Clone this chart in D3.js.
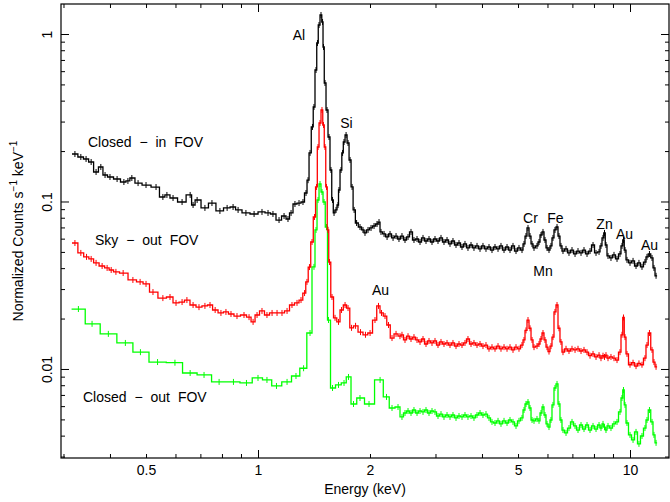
<!DOCTYPE html>
<html><head><meta charset="utf-8">
<script src="https://cdn.jsdelivr.net/npm/d3@7"></script>
<style>
body{margin:0;background:#fff;}
svg{display:block;}
text{font-family:"Liberation Sans",Arial,Helvetica,sans-serif;fill:#000;}
</style>
</head><body>
<svg id="chart" width="670" height="502"></svg>
<script>
// ---------- DATA (energy in keV, normalized counts s^-1 keV^-1) ----------
const blackLowEnergy = [0.322,0.334,0.345,0.356,0.367,0.378,0.388,0.400,0.418,0.436,
 0.447,0.458,0.476,0.500,0.532,0.555,0.569,0.591,0.625,0.657,
 0.669,0.686,0.720,0.752,0.790,0.826,0.857,0.884,0.928,0.976,
 1.025,1.064,1.097,1.139,1.175,1.204,1.227,1.257,1.289,1.321,
 1.346,1.363,1.380,1.401,1.414,1.432,1.445,1.459,1.477,1.491,
 1.500,1.514,1.533,1.552,1.571,1.586,1.601,1.621,1.641,1.651,
 1.672,1.688,1.703,1.725,1.746,1.768,1.790,1.813,1.841,1.880,
 1.915,1.939,1.976,2.013,2.051,2.089,2.115,2.141,2.182,2.223,
 2.264,2.307,2.350,2.393];
const blackLowCounts = [0.1921,0.1844,0.1794,0.1721,0.1500,0.1607,0.1439,0.1400,0.1362,0.1307,
 0.1326,0.1381,0.1288,0.1254,0.1220,0.1064,0.1094,0.1049,0.0993,0.1094,
 0.0953,0.1021,0.0915,0.0979,0.0878,0.0915,0.0927,0.0890,0.0854,0.0842,
 0.0866,0.0854,0.0842,0.0775,0.0819,0.0786,0.0854,0.0966,0.0979,0.0993,
 0.1124,0.1340,0.1949,0.2786,0.3666,0.6096,0.8837,1.1317,1.2986,1.1793,
 0.8363,0.5099,0.3517,0.2427,0.1542,0.1021,0.0854,0.0890,0.0953,0.1171,
 0.1542,0.1949,0.2266,0.2494,0.2235,0.1769,0.1221,0.0890,0.0744,0.0704,
 0.0676,0.0649,0.0676,0.0695,0.0714,0.0734,0.0754,0.0658,0.0640,0.0614,
 0.0640,0.0606,0.0622,0.0597];

const fineEnergy = [2.438,2.484,2.531,2.578,2.626,2.676,2.726,2.777,2.829,2.882,
 2.936,2.991,3.047,3.104,3.162,3.222,3.282,3.343,3.406,3.470,
 3.535,3.601,3.668,3.738,3.807,3.879,3.952,4.025,4.101,4.178,
 4.256,4.336,4.418,4.500,4.585,4.671,4.758,4.847,4.938,5.030,5.125,
 5.189,5.253,5.319,5.385,5.453,5.520,
 5.623,5.694,5.765,5.836,5.909,5.983,6.057,6.132,6.208,6.286,6.365,6.443,6.523,6.605,
 6.730,6.855,6.984,7.116,7.248,7.385,7.522,7.664,7.808,7.954,8.103,8.256,
 8.356,8.461,8.540,8.619,8.727,
 8.889,9.057,9.228,9.399,
 9.517,9.605,9.696,9.815,
 10.00,10.19,10.38,10.57,10.77,10.97,
 11.11,11.28,11.46,11.60,11.75];

const blackFineCounts = [0.0622,0.0589,0.0614,0.0658,0.0589,0.0597,0.0573,0.0606,0.0581,0.0597,
 0.0573,0.0597,0.0581,0.0606,0.0573,0.0589,0.0558,0.0581,0.0550,0.0565,
 0.0535,0.0558,0.0528,0.0550,0.0528,0.0543,0.0521,0.0543,0.0521,0.0535,
 0.0513,0.0535,0.0521,0.0543,0.0513,0.0535,0.0513,0.0543,0.0506,0.0528,
 0.0513,0.0558,0.0622,0.0695,0.0622,0.0558,0.0528,0.0543,0.0573,0.0631,
 0.0658,0.0589,0.0528,0.0513,0.0543,0.0606,0.0676,0.0704,0.0622,0.0543,
 0.0506,0.0521,0.0493,0.0513,0.0486,0.0506,0.0493,0.0513,0.0486,0.0506,
 0.0550,0.0493,0.0500,0.0543,0.0606,0.0649,0.0550,0.0473,0.0460,0.0480,
 0.0454,0.0486,0.0543,0.0589,0.0513,0.0448,0.0430,0.0442,0.0412,0.0430,
 0.0407,0.0435,0.0467,0.0486,0.0460,0.0401,0.0360];

const redLowEnergy = [0.322,0.334,0.346,0.356,0.367,0.381,0.393,0.403,0.415,0.434,
 0.461,0.482,0.500,0.522,0.555,0.580,0.602,0.625,0.644,0.669,
 0.694,0.720,0.743,0.767,0.795,0.820,0.846,0.878,0.917,0.946,
 0.970,0.994,1.025,1.057,1.091,1.125,1.160,1.197,1.234,1.273,
 1.305,1.334,1.354,1.375,1.397,1.419,1.437,1.450,1.468,1.486,
 1.500,1.514,1.528,1.542,1.557,1.581,1.611,1.646,1.677,1.714,
 1.746,1.784,1.829,1.886,1.945,2.001,2.063,2.108,2.148,2.195,
 2.243,2.292,2.350,2.408];
const redLowCounts = [0.0565,0.0493,0.0467,0.0454,0.0430,0.0412,0.0401,0.0390,0.0380,0.0374,
 0.0340,0.0331,0.0322,0.0288,0.0265,0.0269,0.0248,0.0251,0.0258,0.0241,
 0.0234,0.0238,0.0241,0.0225,0.0216,0.0219,0.0213,0.0207,0.0210,0.0204,
 0.0191,0.0210,0.0222,0.0210,0.0216,0.0216,0.0216,0.0222,0.0241,0.0248,
 0.0258,0.0284,0.0331,0.0406,0.0573,0.0808,0.1221,0.2115,0.2942,0.3517,
 0.2862,0.2115,0.1221,0.0676,0.0435,0.0269,0.0202,0.0191,0.0225,0.0241,
 0.0231,0.0176,0.0181,0.0166,0.0160,0.0164,0.0196,0.0238,0.0216,0.0207,
 0.0183,0.0153,0.0162,0.0157];
const redFineCounts = [0.0160,0.0149,0.0157,0.0151,0.0155,0.0149,0.0145,0.0151,0.0141,0.0147,
 0.0143,0.0147,0.0139,0.0145,0.0141,0.0143,0.0139,0.0143,0.0137,0.0141,
 0.0139,0.0143,0.0151,0.0141,0.0143,0.0139,0.0141,0.0137,0.0139,0.0132,
 0.0135,0.0132,0.0137,0.0132,0.0135,0.0132,0.0135,0.0130,0.0135,0.0132,0.0139,
 0.0149,0.0170,0.0196,0.0175,0.0149,0.0135,
 0.0137,0.0141,0.0151,0.0164,0.0149,0.0135,0.0127,0.0137,0.0155,0.0219,0.0241,0.0175,0.0145,0.0126,
 0.0132,0.0128,0.0132,0.0130,0.0132,0.0128,0.0130,0.0126,0.0120,0.0123,0.0118,0.0121,
 0.0116,0.0120,0.0118,0.0121,0.0116,
 0.0118,0.0116,0.0113,0.0126,
 0.0160,0.0203,0.0155,0.0123,
 0.0106,0.0109,0.0104,0.0108,0.0106,0.0116,
 0.0139,0.0164,0.0130,0.0110,0.0103];

const greenLowEnergy = [0.329,0.358,0.396,0.440,0.483,0.537,0.598,0.657,0.716,0.786,
 0.859,0.931,1.000,1.057,1.121,1.197,1.265,1.326,1.380,1.414,
 1.432,1.450,1.468,1.486,1.505,1.528,1.547,1.586,1.646,1.703,
 1.751,1.806,1.880,1.988,2.129,2.215,2.292,2.379];
const greenLowCounts = [0.0228,0.0186,0.0162,0.0143,0.0126,0.0110,0.0109,0.00946,0.00921,0.00837,
 0.00837,0.00825,0.00884,0.00860,0.00792,0.00837,0.00908,0.0101,0.0164,0.0407,
 0.0676,0.1021,0.1272,0.1139,0.0993,0.0704,0.0196,0.00770,0.00803,0.00825,
 0.00896,0.00618,0.00671,0.00618,0.00860,0.00681,0.00585,0.00593];
const greenFineCounts = [0.00517,0.00546,0.00561,0.00546,0.00569,0.00546,0.00561,0.00554,0.00569,0.00546,
 0.00561,0.00554,0.00524,0.00538,0.00517,0.00531,0.00517,0.00531,0.00510,0.00524,
 0.00517,0.00531,0.00517,0.00524,0.00510,0.00531,0.00546,0.00531,0.00538,0.00510,
 0.00483,0.00476,0.00490,0.00470,0.00490,0.00476,0.00496,0.00483,0.00457,0.00490,0.00510,
 0.00569,0.00618,0.00635,0.00585,0.00496,0.00490,
 0.00503,0.00490,0.00546,0.00593,0.00531,0.00470,0.00450,0.00496,0.00610,0.00770,0.00814,0.00618,0.00496,0.00432,
 0.00415,0.00444,0.00483,0.00457,0.00432,0.00463,0.00438,0.00463,0.00432,0.00457,0.00438,0.00463,
 0.00444,0.00470,0.00450,0.00432,0.00457,
 0.00444,0.00470,0.00483,0.00554,
 0.00671,0.00749,0.00610,0.00476,
 0.00404,0.00377,0.00421,0.00357,0.00398,0.00444,
 0.00496,0.00569,0.00483,0.00404,0.00362];

const xTickLabels = [0.5, 1, 2, 5, 10];
const yTickLabels = [0.01, 0.1, 1];
const xDomain = [0.2954, 12.73];
const yDomain = [0.002941, 1.5105];

const seriesNames = ["Closed − in FOV", "Sky − out FOV", "Closed − out FOV"];
const seriesColors = ["#000000", "#ff0000", "#00ff00"];

const lineLabels = [
  {text:"Al", e:1.289, v:0.921},
  {text:"Si", e:1.729, v:0.2747},
  {text:"Au", e:2.135, v:0.02765},
  {text:"Cr", e:5.402, v:0.0744},
  {text:"Fe", e:6.305, v:0.0744},
  {text:"Mn", e:5.836, v:0.0360},
  {text:"Zn", e:8.54, v:0.0685},
  {text:"Au", e:9.665, v:0.0597},
  {text:"Au", e:11.28, v:0.0513}
];
const seriesLabelPos = [
  {e:0.349, v:0.2115},
  {e:0.3646, v:0.0550},
  {e:0.3385, v:0.00635}
];

// ---------- LAYOUT ----------
const W = 670, H = 502;
const m = {left:61, top:4, right:1, bottom:44};
const svg = d3.select("#chart");
const x = d3.scaleLog().domain(xDomain).range([m.left, W - m.right]);
const y = d3.scaleLog().domain(yDomain).range([H - m.bottom, m.top]);

const FS = 14;

// frame
svg.append("rect")
  .attr("x", m.left).attr("y", m.top)
  .attr("width", W - m.right - m.left).attr("height", H - m.bottom - m.top)
  .attr("fill", "none").attr("stroke", "#000").attr("stroke-width", 1.2);

// tick sets
const decadesX = [1, 10];
const minorX = [];
[0.1, 1, 10].forEach(d => { for (let k = 2; k <= 9; k++) { const t = d * k; if (t > xDomain[0] && t < xDomain[1]) minorX.push(t); } });
const decadesY = [0.01, 0.1, 1];
const minorY = [];
[0.001, 0.01, 0.1].forEach(d => { for (let k = 2; k <= 9; k++) { const t = d * k; if (t > yDomain[0] && t < yDomain[1]) minorY.push(t); } });

function styleAxis(g) {
  g.select(".domain").remove();
  g.selectAll("line").attr("stroke", "#000").attr("stroke-width", 1);
}
const bottomY = H - m.bottom, rightX = W - m.right;
// bottom
svg.append("g").attr("transform", `translate(0,${bottomY})`)
  .call(d3.axisBottom(x).tickValues(minorX).tickSize(-4).tickFormat(""))
  .call(styleAxis);
svg.append("g").attr("transform", `translate(0,${bottomY})`)
  .call(d3.axisBottom(x).tickValues(decadesX).tickSize(-8).tickFormat(""))
  .call(styleAxis);
const xl = svg.append("g").attr("transform", `translate(0,${bottomY})`)
  .call(d3.axisBottom(x).tickValues(xTickLabels).tickSize(0).tickPadding(7).tickFormat(d3.format("~g")))
  .call(styleAxis);
xl.selectAll("text").attr("font-size", FS).attr("font-family", "Liberation Sans, Arial, sans-serif").attr("fill", "#000");
// top
svg.append("g").attr("transform", `translate(0,${m.top})`)
  .call(d3.axisTop(x).tickValues(minorX).tickSize(-4).tickFormat(""))
  .call(styleAxis);
svg.append("g").attr("transform", `translate(0,${m.top})`)
  .call(d3.axisTop(x).tickValues(decadesX).tickSize(-8).tickFormat(""))
  .call(styleAxis);
// left
svg.append("g").attr("transform", `translate(${m.left},0)`)
  .call(d3.axisLeft(y).tickValues(minorY).tickSize(-4).tickFormat(""))
  .call(styleAxis);
const yl = svg.append("g").attr("transform", `translate(${m.left},0)`)
  .call(d3.axisLeft(y).tickValues(yTickLabels).tickSize(-8).tickFormat(d3.format("~g")))
  .call(styleAxis);
yl.selectAll("text")
  .attr("font-size", FS).attr("font-family", "Liberation Sans, Arial, sans-serif").attr("fill", "#000")
  .attr("text-anchor", "middle").attr("transform", "rotate(-90)")
  .attr("x", 0).attr("y", -9).attr("dy", null);
// right
svg.append("g").attr("transform", `translate(${rightX},0)`)
  .call(d3.axisRight(y).tickValues(minorY).tickSize(-4).tickFormat(""))
  .call(styleAxis);
svg.append("g").attr("transform", `translate(${rightX},0)`)
  .call(d3.axisRight(y).tickValues(decadesY).tickSize(-8).tickFormat(""))
  .call(styleAxis);

// axis titles
svg.append("text")
  .attr("x", (m.left + W - m.right) / 2).attr("y", 494)
  .attr("text-anchor", "middle").attr("font-size", FS)
  .text("Energy (keV)");
const yt = svg.append("text")
  .attr("transform", `translate(23,${(m.top + H - m.bottom) / 2}) rotate(-90)`)
  .attr("text-anchor", "middle").attr("font-size", FS);
yt.append("tspan").text("Normalized Counts s");
yt.append("tspan").attr("dy", -6).attr("font-size", 10).text("−1");
yt.append("tspan").attr("dy", 6).text(" keV");
yt.append("tspan").attr("dy", -6).attr("font-size", 10).text("−1");

// ---------- SERIES ----------
const series = [
  {E: blackLowEnergy.concat(fineEnergy), V: blackLowCounts.concat(blackFineCounts)},
  {E: redLowEnergy.concat(fineEnergy), V: redLowCounts.concat(redFineCounts)},
  {E: greenLowEnergy.concat(fineEnergy), V: greenLowCounts.concat(greenFineCounts)}
];

function stepPath(E, V) {
  const n = Math.min(E.length, V.length);
  const xs = E.slice(0, n).map(x), ys = V.slice(0, n).map(y);
  const edges = [xs[0] - (xs[1] - xs[0]) / 2];
  for (let i = 1; i < n; i++) edges.push((xs[i - 1] + xs[i]) / 2);
  edges.push(xs[n - 1] + (xs[n - 1] - xs[n - 2]) / 2);
  let d = `M${edges[0]},${ys[0]}H${edges[1]}`;
  for (let i = 1; i < n; i++) d += `V${ys[i]}H${edges[i + 1]}`;
  return d;
}

const plot = svg.append("g");
[2, 1, 0].forEach(i => {
  const s = series[i];
  const g = plot.append("g");
  g.append("path")
    .attr("d", stepPath(s.E, s.V))
    .attr("fill", "none").attr("stroke", seriesColors[i])
    .attr("stroke-width", 1.3).attr("stroke-linejoin", "miter");
  const n = Math.min(s.E.length, s.V.length);
  const pts = d3.range(n).map(k => [s.E[k], s.V[k]]);
  g.selectAll("line.err").data(pts).join("line")
    .attr("class", "err")
    .attr("x1", d => x(d[0])).attr("x2", d => x(d[0]))
    .attr("y1", d => y(d[1]) - 3).attr("y2", d => y(d[1]) + 3)
    .attr("stroke", seriesColors[i]).attr("stroke-width", 1);
});

// labels
seriesNames.forEach((name, i) => {
  svg.append("text")
    .attr("x", x(seriesLabelPos[i].e)).attr("y", y(seriesLabelPos[i].v))
    .attr("font-size", FS).attr("word-spacing", 4)
    .text(name);
});
lineLabels.forEach(l => {
  svg.append("text")
    .attr("x", x(l.e)).attr("y", y(l.v))
    .attr("text-anchor", "middle").attr("font-size", FS)
    .text(l.text);
});
</script>
</body></html>
